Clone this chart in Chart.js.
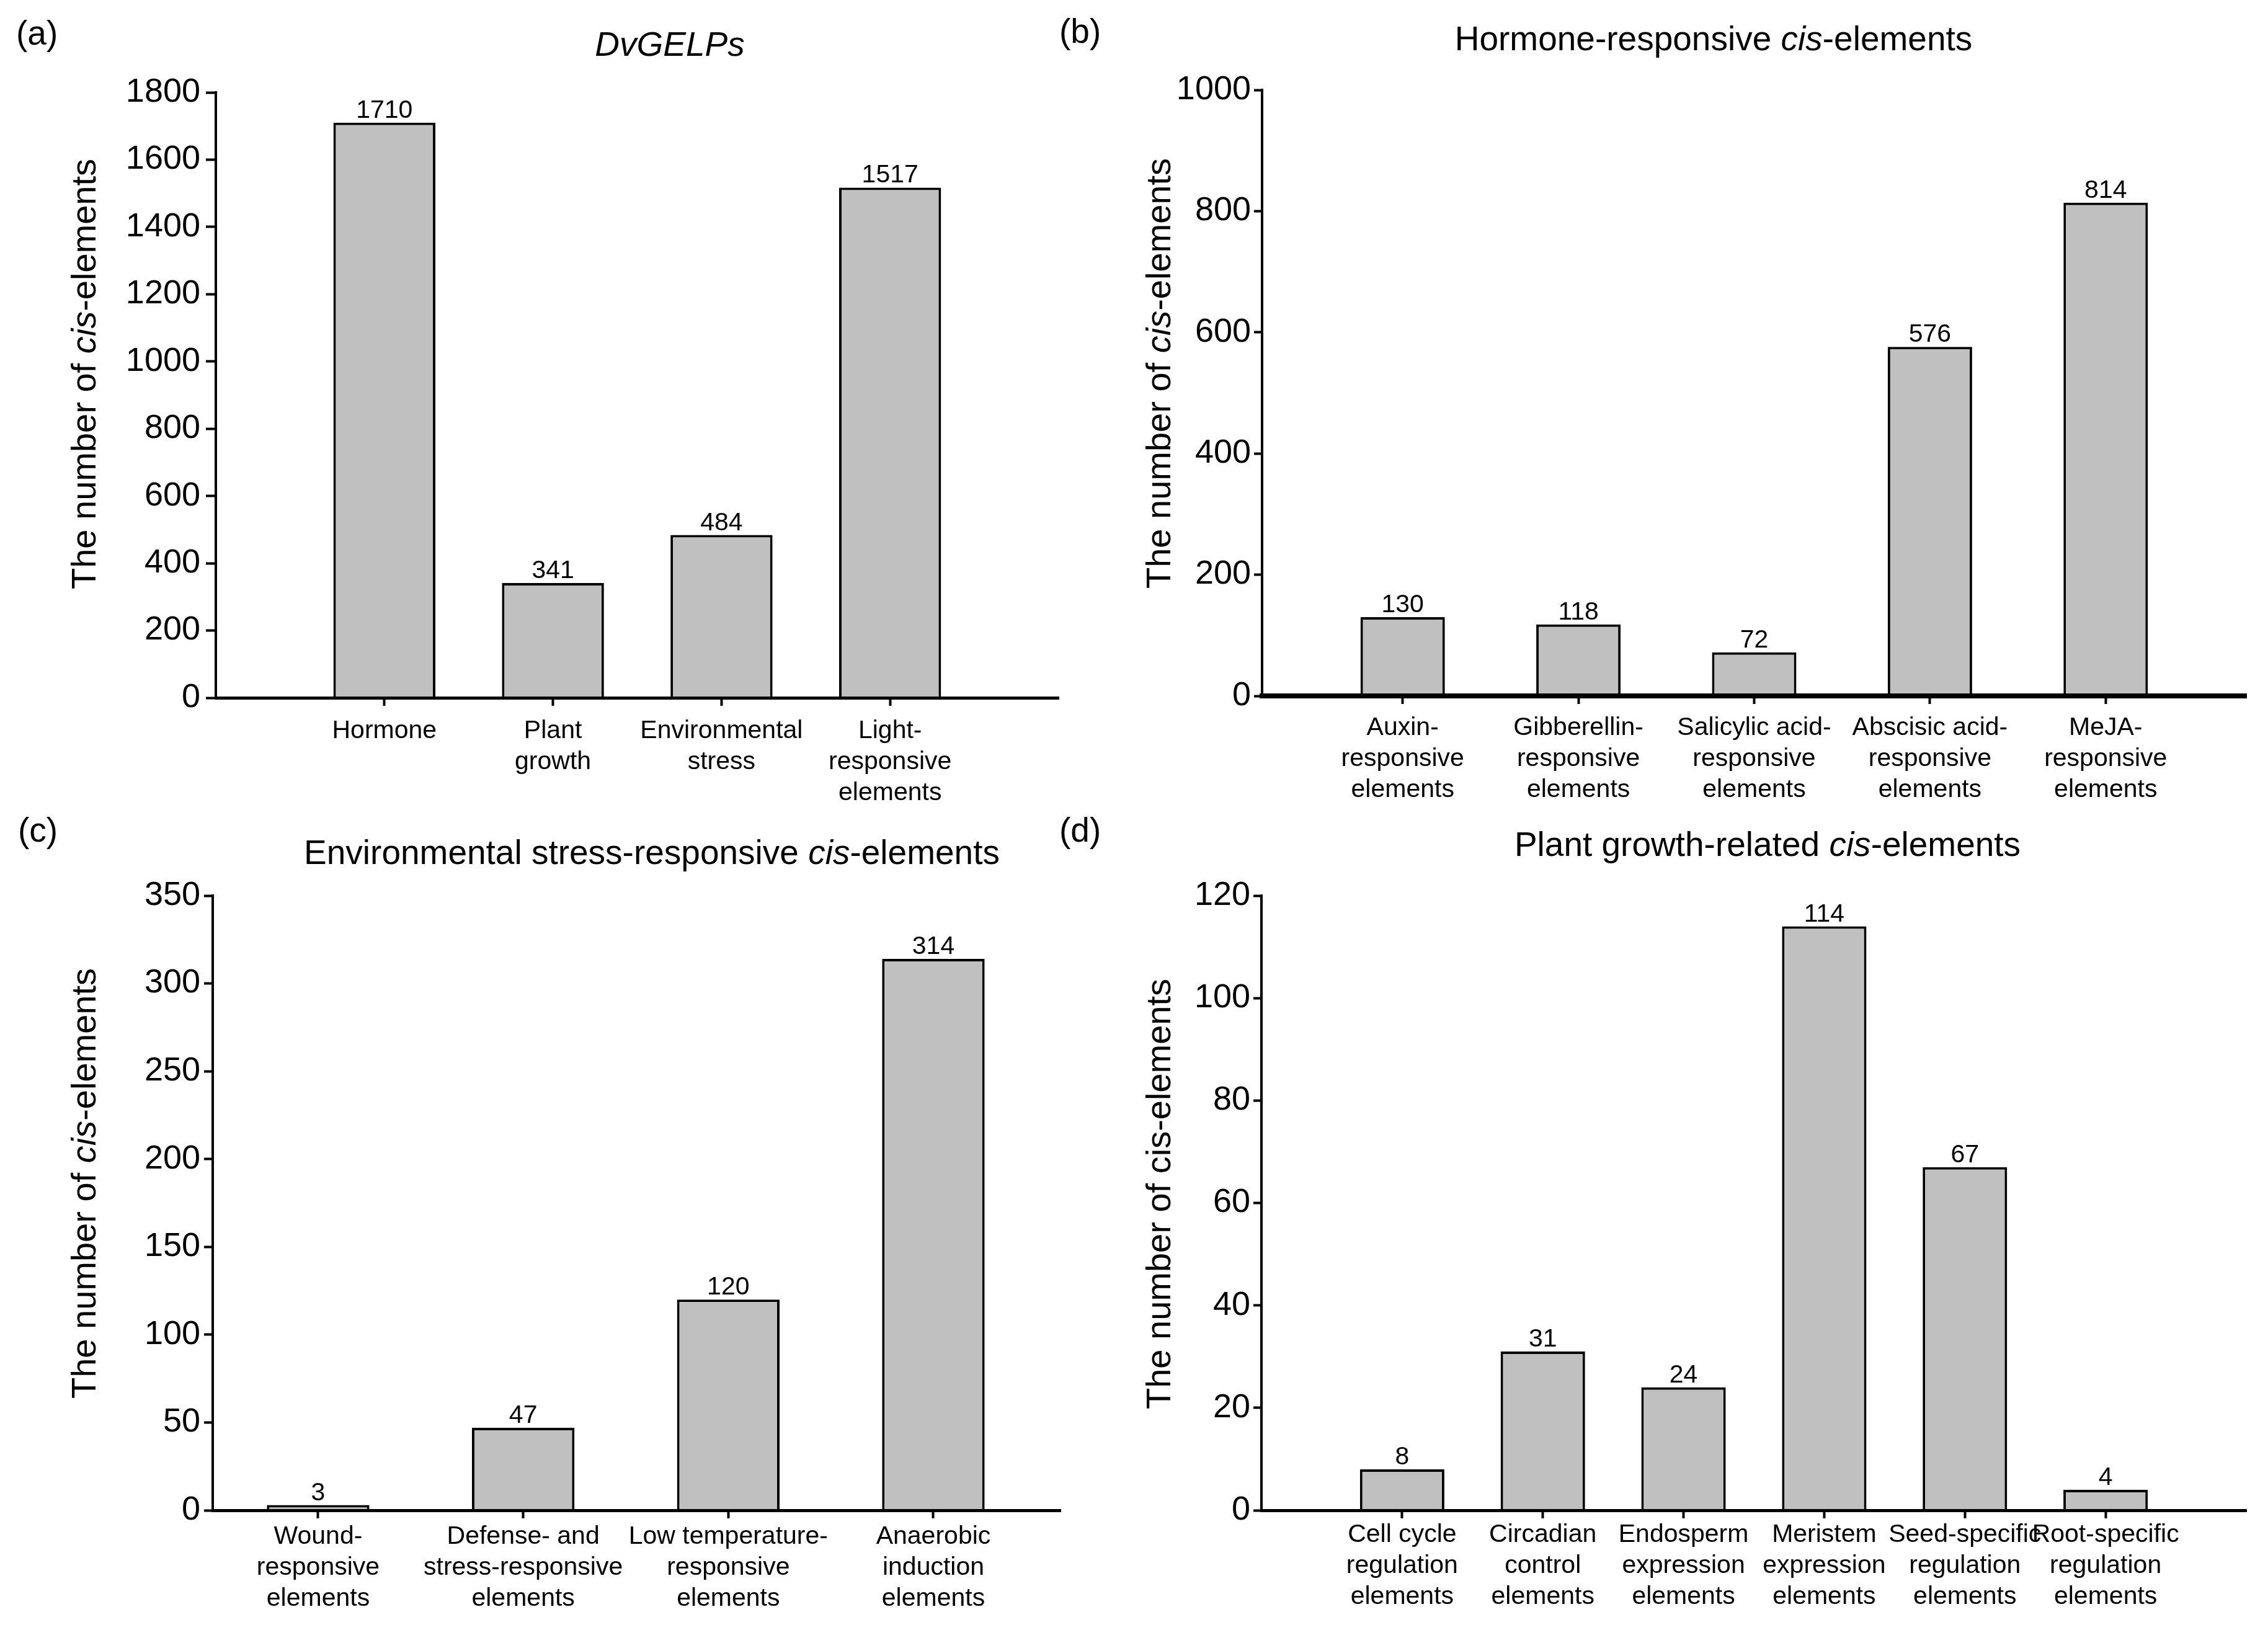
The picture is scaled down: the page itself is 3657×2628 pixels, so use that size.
<!DOCTYPE html>
<html>
<head>
<meta charset="utf-8">
<script src="https://cdn.jsdelivr.net/npm/chart.js@4.4.1/dist/chart.umd.min.js"></script>
<style>
  html, body { margin: 0; padding: 0; background: #ffffff; }
  body { width: 3657px; height: 2628px; position: relative; overflow: hidden;
         font-family: 'Liberation Sans', Arial, sans-serif; color: #000; }
  canvas { position: absolute; }
  .txt { position: absolute; white-space: nowrap; line-height: 1; transform: translate(-50%, -50%); }
  .lbl { position: absolute; white-space: nowrap; line-height: 1; transform: translate(0, -50%); }
  .rot { position: absolute; white-space: nowrap; line-height: 1; transform: translate(-50%, -50%) rotate(-90deg); }
</style>
</head>
<body>

<div class="lbl" style="left:26px; top:53px; font-size:55px;">(a)</div>
<div class="txt" style="left:1080px; top:71px; font-size:55px;"><i>DvGELPs</i></div>
<div class="rot" style="left:135px; top:603px; font-size:56px;">The number of <i>cis</i>-elements</div>

<div class="lbl" style="left:1708px; top:50px; font-size:55px;">(b)</div>
<div class="txt" style="left:2763px; top:62px; font-size:55px;">Hormone-responsive <i>cis</i>-elements</div>
<div class="rot" style="left:1868px; top:602px; font-size:56px;">The number of <i>cis</i>-elements</div>

<div class="lbl" style="left:29px; top:1338px; font-size:55px;">(c)</div>
<div class="txt" style="left:1051px; top:1374px; font-size:55px;">Environmental stress-responsive <i>cis</i>-elements</div>
<div class="rot" style="left:135px; top:1908px; font-size:56px;">The number of <i>cis</i>-elements</div>

<div class="lbl" style="left:1708px; top:1338px; font-size:55px;">(d)</div>
<div class="txt" style="left:2850px; top:1361px; font-size:55px;">Plant growth-related <i>cis</i>-elements</div>
<div class="rot" style="left:1868px; top:1925px; font-size:56px;">The number of cis-elements</div>

<canvas id="ca"></canvas>
<canvas id="cb"></canvas>
<canvas id="cc"></canvas>
<canvas id="cd"></canvas>

<script>
// ---------- DATA ----------
const categoriesA = [['Hormone'], ['Plant', 'growth'], ['Environmental', 'stress'], ['Light-', 'responsive', 'elements']];
const valuesA = [1710, 341, 484, 1517];
const yTicksA = [0, 200, 400, 600, 800, 1000, 1200, 1400, 1600, 1800];

const categoriesB = [['Auxin-', 'responsive', 'elements'], ['Gibberellin-', 'responsive', 'elements'],
                     ['Salicylic acid-', 'responsive', 'elements'], ['Abscisic acid-', 'responsive', 'elements'],
                     ['MeJA-', 'responsive', 'elements']];
const valuesB = [130, 118, 72, 576, 814];
const yTicksB = [0, 200, 400, 600, 800, 1000];

const categoriesC = [['Wound-', 'responsive', 'elements'], ['Defense- and', 'stress-responsive', 'elements'],
                     ['Low temperature-', 'responsive', 'elements'], ['Anaerobic', 'induction', 'elements']];
const valuesC = [3, 47, 120, 314];
const yTicksC = [0, 50, 100, 150, 200, 250, 300, 350];

const categoriesD = [['Cell cycle', 'regulation', 'elements'], ['Circadian', 'control', 'elements'],
                     ['Endosperm', 'expression', 'elements'], ['Meristem', 'expression', 'elements'],
                     ['Seed-specific', 'regulation', 'elements'], ['Root-specific', 'regulation', 'elements']];
const valuesD = [8, 31, 24, 114, 67, 4];
const yTicksD = [0, 20, 40, 60, 80, 100, 120];

// ---------- LAYOUT (pixels / styling, separate from data) ----------
const FONT = "'Liberation Sans', Arial, sans-serif";
Chart.defaults.font.family = FONT;
Chart.defaults.color = '#000';

const panels = [
  { id: 'ca', cats: categoriesA, vals: valuesA, yt: yTicksA,
    axisX: 348, yTop: 149, y0: 1125, xEnd: 1707, xmin: -1, xmax: 4, barPct: 0.605,
    xBorder: 5, xPad: 16, yTick: 16, yPad: 9 },
  { id: 'cb', cats: categoriesB, vals: valuesB, yt: yTicksB,
    axisX: 2035, yTop: 145, y0: 1122, xEnd: 3622, xmin: -0.8, xmax: 4.8, barPct: 0.48,
    xBorder: 8, xPad: 14, yTick: 13, yPad: 5 },
  { id: 'cc', cats: categoriesC, vals: valuesC, yt: yTicksC,
    axisX: 343, yTop: 1444, y0: 2435, xEnd: 1710, xmin: -0.514, xmax: 3.62, barPct: 0.5,
    xBorder: 5, xPad: 5, yTick: 14, yPad: 6 },
  { id: 'cd', cats: categoriesD, vals: valuesD, yt: yTicksD,
    axisX: 2034, yTop: 1444, y0: 2435, xEnd: 3622, xmin: -1, xmax: 6, barPct: 0.6,
    xBorder: 5, xPad: 2, yTick: 13, yPad: 5 }
];

const LEFT_W = 200, TOP_P = 60, RIGHT_P = 10, BOTTOM_H = 200;

const valueLabels = {
  id: 'valueLabels',
  afterDatasetsDraw(chart) {
    const ctx = chart.ctx;
    const meta = chart.getDatasetMeta(0);
    const vals = chart.data.datasets[0].data;
    ctx.save();
    ctx.font = '41px ' + FONT;
    ctx.fillStyle = '#000';
    ctx.textAlign = 'center';
    ctx.textBaseline = 'alphabetic';
    meta.data.forEach((el, i) => {
      ctx.fillText(String(vals[i].y), el.x, el.y - 8);
    });
    ctx.restore();
  }
};

panels.forEach(p => {
  const cv = document.getElementById(p.id);
  const left = p.axisX - LEFT_W;
  const top = p.yTop - TOP_P;
  const w = p.xEnd + RIGHT_P - left;
  const h = p.y0 + BOTTOM_H - top;
  cv.width = w; cv.height = h;
  cv.style.left = left + 'px'; cv.style.top = top + 'px';
  cv.style.width = w + 'px'; cv.style.height = h + 'px';

  new Chart(cv, {
    type: 'bar',
    data: {
      datasets: [{
        data: p.vals.map((v, i) => ({ x: i, y: v })),
        backgroundColor: '#c0c0c0',
        borderColor: '#000',
        borderWidth: 4,
        borderSkipped: 'bottom',
        categoryPercentage: 1,
        barPercentage: p.barPct
      }]
    },
    options: {
      responsive: false,
      animation: false,
      devicePixelRatio: 1,
      events: [],
      layout: { padding: { top: TOP_P, right: RIGHT_P, left: 0, bottom: 0 } },
      plugins: { legend: { display: false }, title: { display: false }, tooltip: { enabled: false } },
      scales: {
        x: {
          type: 'linear',
          bounds: 'data',
          offset: false,
          min: p.xmin,
          max: p.xmax,
          afterFit: s => { s.height = BOTTOM_H; },
          afterBuildTicks: s => { s.ticks = p.cats.map((c, i) => ({ value: i })); },
          grid: { display: true, offset: false, drawOnChartArea: false, drawTicks: true, tickLength: 13, tickWidth: 4, tickColor: '#000', color: '#000' },
          border: { display: true, color: '#000', width: p.xBorder, z: 1 },
          ticks: {
            autoSkip: false, maxRotation: 0, minRotation: 0, padding: p.xPad,
            font: { size: 41, lineHeight: 1.22 }, color: '#000',
            callback: (v, idx) => p.cats[idx]
          }
        },
        y: {
          type: 'linear',
          min: p.yt[0],
          max: p.yt[p.yt.length - 1],
          afterFit: s => { s.width = LEFT_W; },
          afterBuildTicks: s => { s.ticks = p.yt.map(v => ({ value: v })); },
          grid: { display: true, drawOnChartArea: false, drawTicks: true, tickLength: p.yTick, tickWidth: 4, tickColor: '#000', color: '#000' },
          border: { display: true, color: '#000', width: 4, z: 1 },
          ticks: { padding: p.yPad, font: { size: 54 }, color: '#000', callback: v => String(v) }
        }
      }
    },
    plugins: [valueLabels]
  });
});
</script>
</body>
</html>
